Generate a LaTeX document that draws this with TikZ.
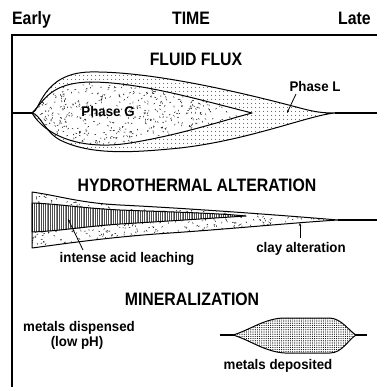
\documentclass[tikz,border=0pt]{standalone}
\usepackage{fontspec}
\setmainfont{Liberation Sans}
\usetikzlibrary{patterns.meta,arrows.meta}
\begin{document}
\begin{tikzpicture}[x=1pt,y=-1pt,
  title/.style={font=\fontsize{18}{20}\selectfont\bfseries, xscale=0.88, inner sep=0pt, anchor=base},
  lbl/.style={font=\fontsize{14}{16}\selectfont\bfseries, xscale=0.95, inner sep=0pt, anchor=base},
  outline/.style={line width=1pt, line join=round},
  leader/.style={line width=0.8pt, -{Stealth[length=3pt,width=2.5pt]}},
  frameline/.style={line width=1.3pt}]
\useasboundingbox (0,0) rectangle (377,387);
% paths
\def\pathOuterL{(32,113) .. controls (40,112) and (42,73) .. (90,72) .. controls (150,71) and (240,92) .. (300,108) .. controls (315,112) and (322,113) .. (335,113) .. controls (310,115) and (250,140) .. (180,148) .. controls (130,153) and (90,155) .. (60,140) .. controls (45,132) and (40,114) .. (32,113) -- cycle}
\def\pathInnerG{(32,113) .. controls (45,100) and (50,83) .. (90,82) .. controls (140,82) and (200,100) .. (252,113) .. controls (225,120) and (180,135) .. (130,143) .. controls (80,151) and (45,135) .. (32,113) -- cycle}
\def\pathHydOuter{(32,192) .. controls (60,196) and (80,203) .. (120,205) .. controls (200,209) and (290,216) .. (338,220) .. controls (290,223) and (230,229) .. (170,233) .. controls (110,237) and (70,243) .. (32,248) -- cycle}
\def\pathHydBand{(32,203) .. controls (60,204) and (80,208) .. (120,210) .. controls (170,212) and (215,213) .. (246,216) .. controls (215,218) and (170,221) .. (120,224) .. controls (80,227) and (60,231) .. (32,232) -- cycle}
\def\pathLens{(233,335) .. controls (250,330) and (265,318) .. (285,318) -- (330,318) .. controls (342,319) and (348,330) .. (356,335) .. controls (348,340) and (342,353) .. (330,353) -- (285,353) .. controls (265,352) and (250,340) .. (233,335) -- cycle}

% frame
\coordinate (fTL) at (12,35);
\coordinate (fTR) at (377,35);
\coordinate (fBL) at (12,387);
\draw[frameline] (fTR) -- (fTL) -- (fBL);

% header texts
\node[title, anchor=base west] (early) at (12,25) {Early};
\node[title] (time) at (191,25) {TIME};
\node[title, anchor=base west] (late) at (338,25) {Late};

% ===== FLUID FLUX =====
\node[title] (fluxt) at (196,66) {FLUID FLUX};
\fill[pattern={Dots[distance=4pt,radius=0.5pt]}] \pathOuterL;
\fill[white] \pathInnerG;
\begin{scope}
  \clip \pathInnerG;
  \pgfmathsetseed{7}
  \foreach \i in {1,...,750}{
    \pgfmathsetmacro\xx{30+rnd*225}
    \pgfmathsetmacro\yy{80+rnd*68}
    \pgfmathsetmacro\aa{rnd*180}
    \draw[line width=0.45pt] (\xx,\yy) -- ++(\aa:1.6);
  }
\end{scope}
\draw[outline] \pathOuterL;
\draw[outline] \pathInnerG;
\coordinate (fluxL) at (12,113);
\coordinate (fluxLb) at (33,113);
\coordinate (fluxR) at (335,113);
\coordinate (fluxRe) at (377,113);
\draw[line width=1.2pt] (fluxL) -- (fluxLb);
\draw[line width=1.3pt] (fluxR) -- (fluxRe);
\node[lbl] (phG) at (108,117) {Phase G};
\node[lbl] (phL) at (315,92) {Phase L};
\coordinate (phLtip) at (287,113);
\draw[leader] (296,94) -- (phLtip);

% ===== HYDROTHERMAL ALTERATION =====
\node[title] (hydt) at (197,191) {HYDROTHERMAL ALTERATION};
\begin{scope}
  \clip \pathHydOuter;
  \pgfmathsetseed{11}
  \foreach \i in {1,...,900}{
    \pgfmathsetmacro\xx{30+rnd*310}
    \pgfmathsetmacro\yy{190+rnd*60}
    \pgfmathsetmacro\aa{rnd*180}
    \draw[line width=0.45pt] (\xx,\yy) -- ++(\aa:1.6);
  }
\end{scope}
\fill[white] \pathHydBand;
\fill[pattern={Lines[angle=90,distance=1.8pt,line width=0.3pt]}, pattern color=black!70] \pathHydBand;
\draw[outline] \pathHydBand;
\draw[outline] \pathHydOuter;
\coordinate (hydR) at (338,220);
\coordinate (hydRe) at (377,220);
\draw[line width=1.3pt] (hydR) -- (hydRe);
\node[lbl] (acid) at (127,262) {intense acid leaching};
\coordinate (acidTip) at (68,219);
\draw[leader] (83,250) -- (acidTip);
\node[lbl] (clay) at (301,252) {clay alteration};
\coordinate (clayTip) at (300,223);
\draw[leader] (300,238) -- (clayTip);

% ===== MINERALIZATION =====
\node[title] (mint) at (192,305) {MINERALIZATION};
\node[lbl] (disp) at (79,331) {metals dispensed};
\node[lbl] (lowph) at (77,346) {(low pH)};
\fill[pattern={Dots[distance=2.2pt,radius=0.6pt]}] \pathLens;
\draw[outline] \pathLens;
\coordinate (lensL) at (220,335);
\coordinate (lensLb) at (234,335);
\coordinate (lensR) at (355,335);
\coordinate (lensRe) at (367,335);
\draw[line width=1.2pt] (lensL) -- (lensLb);
\draw[line width=1.2pt] (lensR) -- (lensRe);
\node[lbl] (dep) at (278,369) {metals deposited};
\end{tikzpicture}
\end{document}
